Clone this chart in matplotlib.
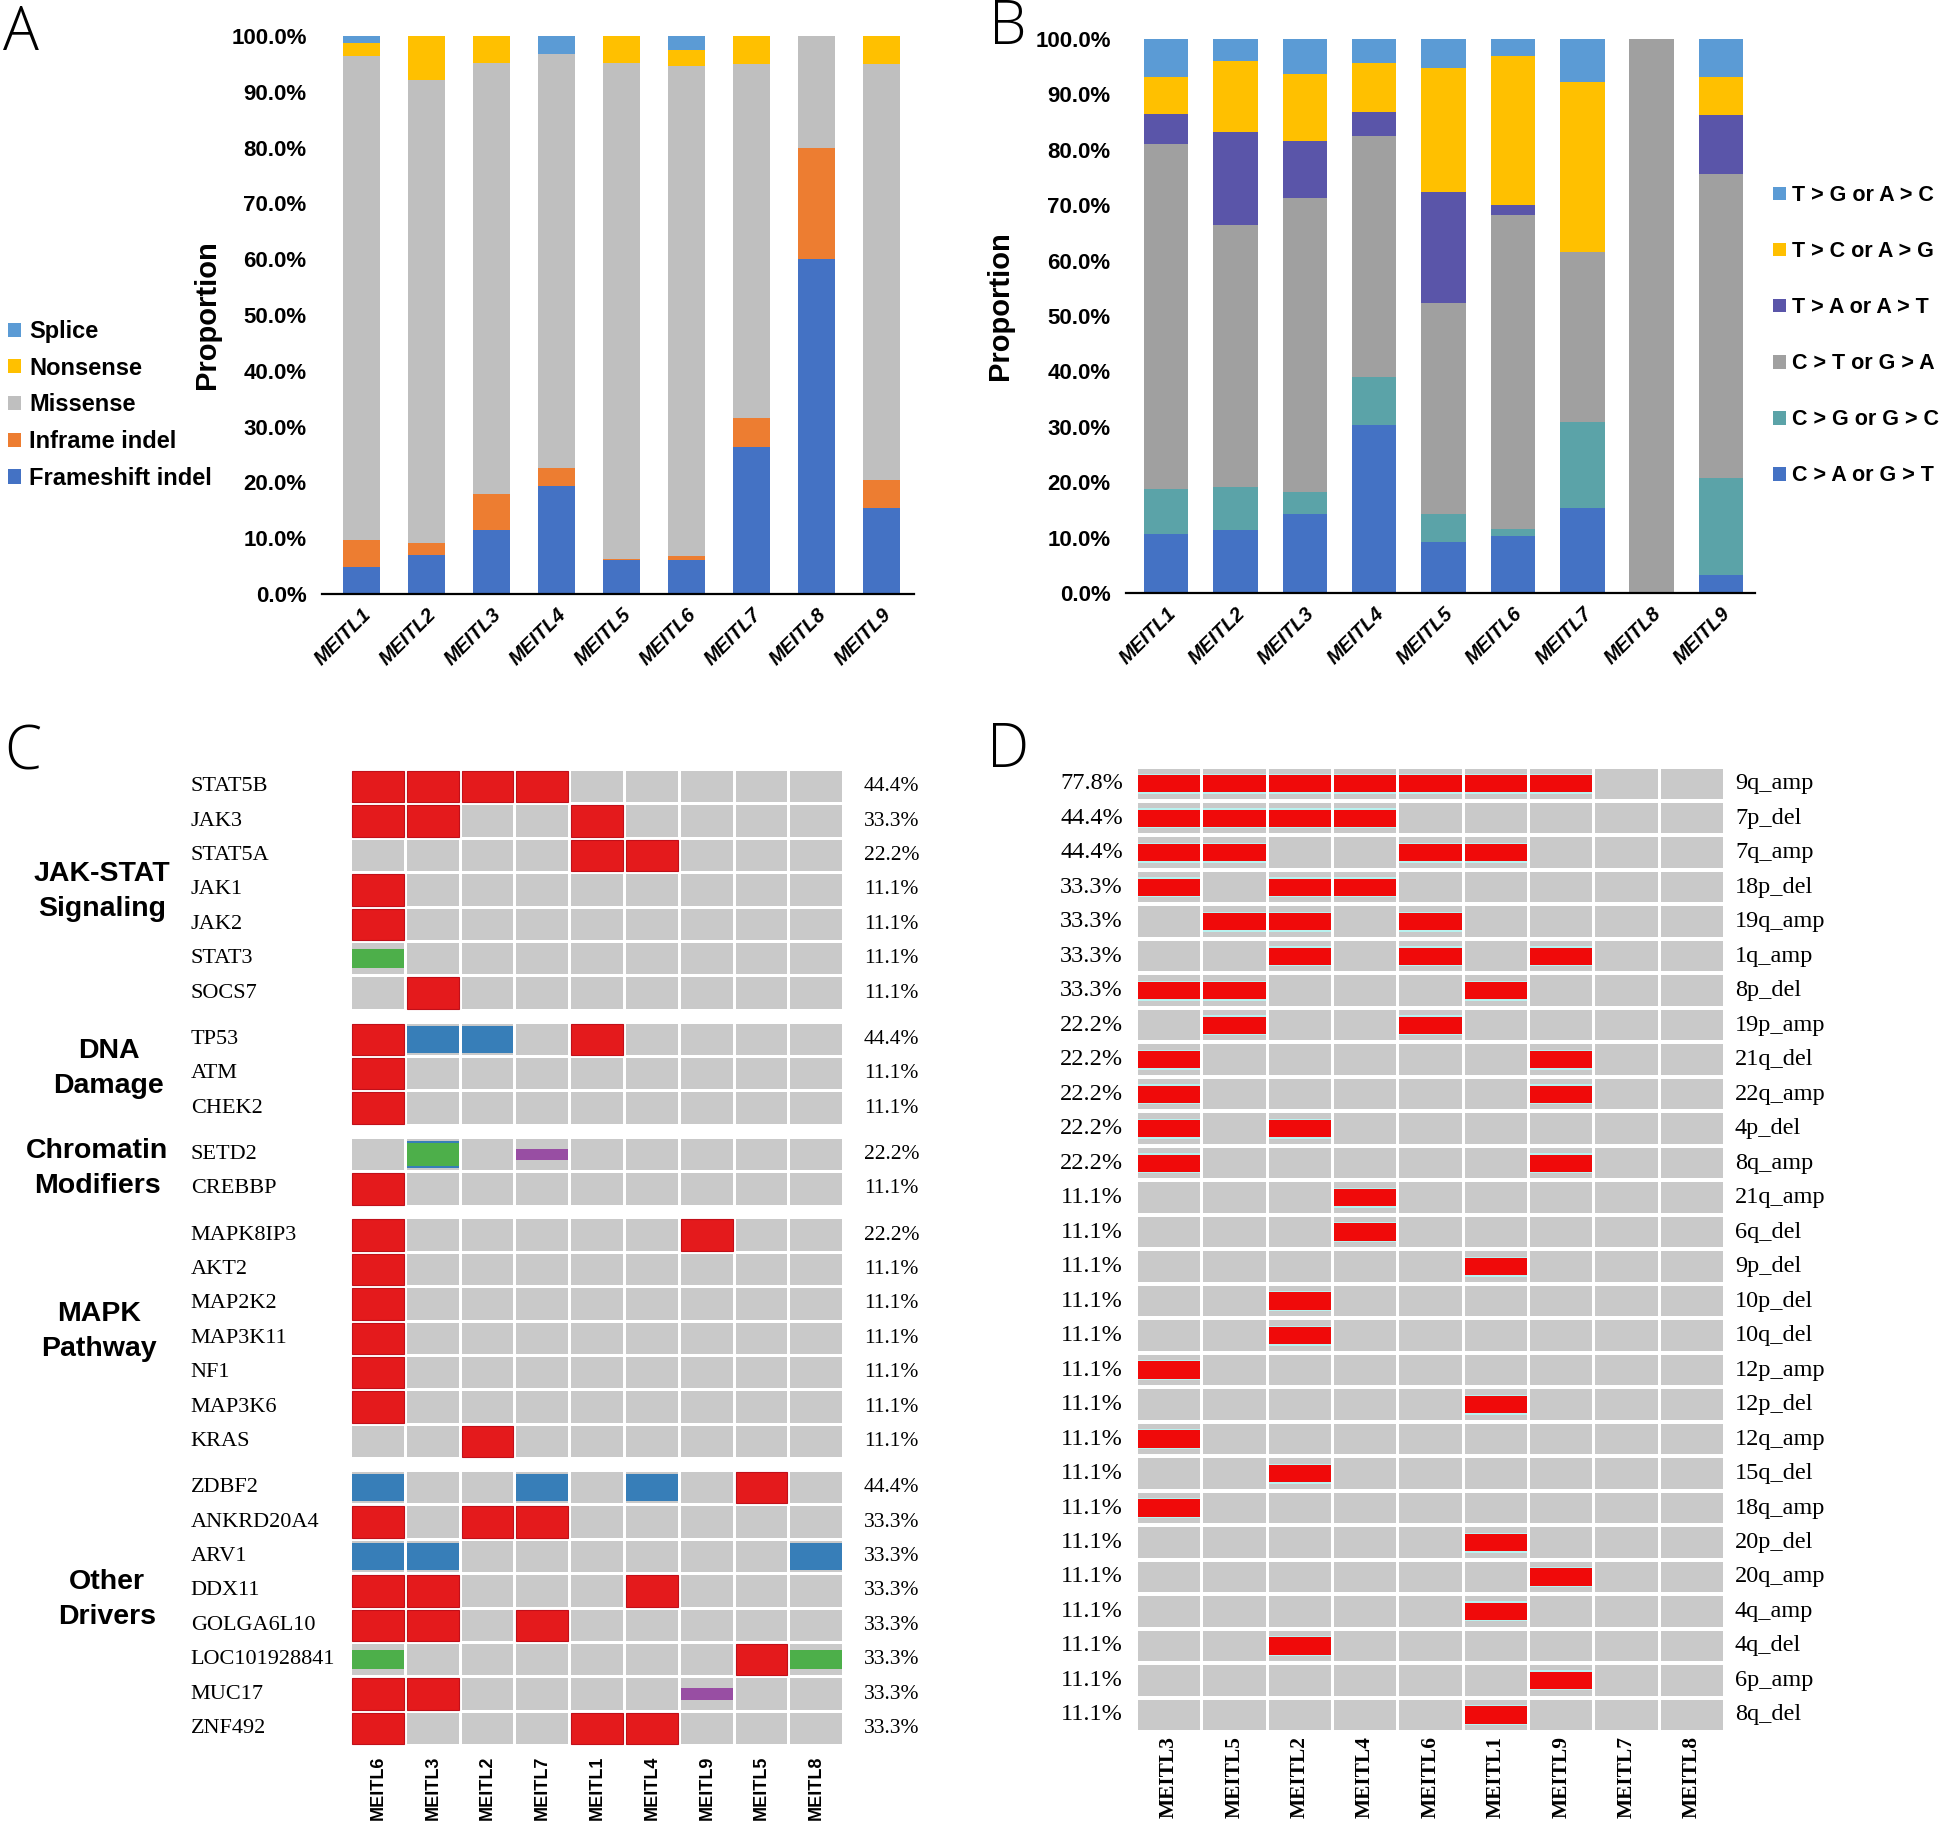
import numpy as np
import matplotlib
matplotlib.use("Agg")
import matplotlib.pyplot as plt
from matplotlib.patches import Rectangle
from matplotlib.transforms import blended_transform_factory

# ---- data -------------------------------------------------------------
samples = ['MEITL1', 'MEITL2', 'MEITL3', 'MEITL4', 'MEITL5',
           'MEITL6', 'MEITL7', 'MEITL8', 'MEITL9']

# panel A: mutation class proportions (%)
frameshift = [4.9, 7.0, 11.5, 19.3, 6.1, 6.1, 26.3, 60.0, 15.4]
inframe = [4.8, 2.2, 6.5, 3.3, 0.2, 0.7, 5.3, 20.0, 5.0]
missense = [86.8, 82.9, 77.2, 74.2, 88.8, 87.9, 63.3, 20.0, 74.6]
nonsense = [2.3, 7.9, 4.8, 0.0, 4.9, 2.8, 5.1, 0.0, 5.0]
splice = [1.2, 0.0, 0.0, 3.2, 0.0, 2.5, 0.0, 0.0, 0.0]

# panel B: substitution spectrum (%)
c_to_a = [10.6, 11.4, 14.2, 30.4, 9.2, 10.3, 15.3, 0.0, 3.3]
c_to_g = [8.2, 7.7, 4.0, 8.6, 5.1, 1.3, 15.5, 0.0, 17.4]
c_to_t = [62.2, 47.4, 53.1, 43.5, 38.1, 56.6, 30.7, 100.0, 55.0]
t_to_a = [5.4, 16.8, 10.3, 4.4, 19.9, 1.8, 0.0, 0.0, 10.5]
t_to_c = [6.8, 12.8, 12.1, 8.7, 22.4, 26.9, 30.8, 0.0, 6.9]
t_to_g = [6.8, 3.9, 6.3, 4.4, 5.3, 3.1, 7.7, 0.0, 6.9]

# panel C: driver genes (R red, B blue, G green, P purple, X blue+green)
c_samples = ['MEITL6', 'MEITL3', 'MEITL2', 'MEITL7', 'MEITL1',
             'MEITL4', 'MEITL9', 'MEITL5', 'MEITL8']
c_groups = ['JAK-STAT\nSignaling', 'DNA\nDamage', 'Chromatin\nModifiers',
            'MAPK\nPathway', 'Other\nDrivers']
c_group_sizes = [7, 3, 2, 7, 8]
c_genes = ['STAT5B', 'JAK3', 'STAT5A', 'JAK1', 'JAK2', 'STAT3', 'SOCS7',
           'TP53', 'ATM', 'CHEK2',
           'SETD2', 'CREBBP',
           'MAPK8IP3', 'AKT2', 'MAP2K2', 'MAP3K11', 'NF1', 'MAP3K6', 'KRAS',
           'ZDBF2', 'ANKRD20A4', 'ARV1', 'DDX11', 'GOLGA6L10',
           'LOC101928841', 'MUC17', 'ZNF492']
c_calls = ['RRRR.....', 'RR..R....', '....RR...', 'R........', 'R........',
           'G........', '.R.......',
           'RBB.R....', 'R........', 'R........',
           '.X.P.....', 'R........',
           'R.....R..', 'R........', 'R........', 'R........', 'R........',
           'R........', '..R......',
           'B..B.B.R.', 'R.RR.....', 'BB......B', 'RR...R...', 'RR.R.....',
           'G......RG', 'RR....P..', 'R...RR...']

# panel D: copy number events
d_samples = ['MEITL3', 'MEITL5', 'MEITL2', 'MEITL4', 'MEITL6',
             'MEITL1', 'MEITL9', 'MEITL7', 'MEITL8']
d_events = ['9q_amp', '7p_del', '7q_amp', '18p_del', '19q_amp', '1q_amp',
            '8p_del', '19p_amp', '21q_del', '22q_amp', '4p_del', '8q_amp',
            '21q_amp', '6q_del', '9p_del', '10p_del', '10q_del', '12p_amp',
            '12p_del', '12q_amp', '15q_del', '18q_amp', '20p_del', '20q_amp',
            '4q_amp', '4q_del', '6p_amp', '8q_del']
d_calls = ['RRRRRRR..', 'RRRR.....', 'RR..RR...', 'R.RR.....', '.RR.R....',
           '..R.R.R..', 'RR...R...', '.R..R....', 'R.....R..', 'R.....R..',
           'R.R......', 'R.....R..', '...R.....', '...R.....', '.....R...',
           '..R......', '..R......', 'R........', '.....R...', 'R........',
           '..R......', 'R........', '.....R...', '......R..', '.....R...',
           '..R......', '......R..', '.....R...']

# ---- layout helpers ---------------------------------------------------
W, H = 1946, 1827
plt.rcParams['font.family'] = ['Liberation Sans', 'DejaVu Sans']
SERIF = ['Liberation Serif', 'DejaVu Serif']


def box(x0, y0, x1, y1):
    # pixel box (top-left origin) -> figure rect
    return [x0 / W, 1 - y1 / H, (x1 - x0) / W, (y1 - y0) / H]


fig = plt.figure(figsize=(W / 100, H / 100), dpi=100)


def stacked(ax, series, names, colors, width):
    x = np.arange(len(samples))
    bottom = np.zeros(len(samples))
    for vals, name, col in zip(series, names, colors):
        ax.bar(x, vals, width, bottom=bottom, color=col, label=name)
        bottom += np.array(vals)
    ax.set_ylim(0, 100)
    ticks = np.arange(0, 101, 10)
    ax.set_yticks(ticks, [f'{t:.1f}%' for t in ticks],
                  fontsize=16, fontweight='bold')
    ax.set_xticks(x, samples, rotation=45, ha='right', va='top',
                  rotation_mode='anchor', fontsize=14.5,
                  fontweight='bold', fontstyle='italic')
    ax.tick_params(axis='both', length=0)
    ax.tick_params(axis='y', pad=11)
    ax.tick_params(axis='x', pad=8)
    for s in ['top', 'right', 'left']:
        ax.spines[s].set_visible(False)
    ax.spines['bottom'].set_linewidth(1.6)
    ax.set_ylabel('Proportion', fontsize=21, fontweight='bold')


# ---- panel A ----------------------------------------------------------
axA = fig.add_axes(box(322, 36, 914, 594))
stacked(axA, [frameshift, inframe, missense, nonsense, splice],
        ['Frameshift indel', 'Inframe indel', 'Missense', 'Nonsense', 'Splice'],
        ['#4472C4', '#ED7D31', '#BFBFBF', '#FFC000', '#5B9BD5'], 0.57)
axA.set_xlim(-0.61, 8.5)
axA.yaxis.set_label_coords(-0.171, 0.5)
h, l = axA.get_legend_handles_labels()
fig.legend(h[::-1], l[::-1], loc='upper left',
           bbox_to_anchor=(8 / W, 1 - 320 / H), frameon=False,
           prop={'family': 'Liberation Sans', 'weight': 'bold', 'size': 17},
           handlelength=0.55, handleheight=0.55, handletextpad=0.35,
           labelspacing=0.58, borderpad=0, borderaxespad=0)

# ---- panel B ----------------------------------------------------------
axB = fig.add_axes(box(1126, 39, 1755, 593))
stacked(axB, [c_to_a, c_to_g, c_to_t, t_to_a, t_to_c, t_to_g],
        ['C > A or G > T', 'C > G or G > C', 'C > T or G > A',
         'T > A or A > T', 'T > C or A > G', 'T > G or A > C'],
        ['#4472C4', '#5BA3A8', '#A0A0A0', '#5A55A9', '#FFC000', '#5B9BD5'],
        0.64)
axB.set_xlim(-0.58, 8.49)
axB.yaxis.set_label_coords(-0.178, 0.518)
h, l = axB.get_legend_handles_labels()
fig.legend(h[::-1], l[::-1], loc='upper left',
           bbox_to_anchor=(1773 / W, 1 - 185 / H), frameon=False,
           prop={'family': 'Liberation Sans', 'weight': 'bold', 'size': 15.5},
           handlelength=0.6, handleheight=0.6, handletextpad=0.3,
           labelspacing=1.63, borderpad=0, borderaxespad=0)

# ---- panel C ----------------------------------------------------------
GRAY = '#C9C9C9'
axC = fig.add_axes(box(350.6, 769.5, 843.75, 1745.7))
c_gap = 0.345
ys, mids = [], []
y = 0.0
for n in c_group_sizes:
    mids.append(y + (n - 1) / 2)
    for k in range(n):
        ys.append(y)
        y += 1
    y += c_gap
gx, gy = 0.055, 0.087
mark_h = {'R': 1 - gy, 'B': 0.8, 'G': 0.55, 'P': 0.34}
mark_c = {'R': '#E41A1C', 'B': '#377EB8', 'G': '#4DAF4A', 'P': '#984EA3'}
for yi, calls in zip(ys, c_calls):
    for ci, ch in enumerate(calls):
        axC.add_patch(Rectangle((ci + gx / 2, yi - 0.5 + gy / 2), 1 - gx, 1 - gy,
                                color=GRAY, lw=0))
        layers = {'X': [('B', 0.79), ('G', 0.69)]}.get(
            ch, [(ch, mark_h.get(ch, 0))])
        for code, hh in layers:
            if code not in mark_c:
                continue
            ec = '#C0101A' if code == 'R' else 'none'
            axC.add_patch(Rectangle((ci + gx / 2, yi - hh / 2), 1 - gx, hh,
                                    facecolor=mark_c[code], edgecolor=ec, lw=0.8))
axC.set_xlim(0, 9)
axC.set_ylim(ys[-1] + 0.5, -0.5)
axC.set_yticks([])
axC.set_xticks(np.arange(9) + 0.5, c_samples, rotation=90,
               fontsize=13, fontweight='bold')
axC.tick_params(axis='x', length=0, pad=7)
for s in axC.spines.values():
    s.set_visible(False)
trC = blended_transform_factory(axC.transAxes, axC.transData)
for yi, gene, calls in zip(ys, c_genes, c_calls):
    n = sum(ch != '.' for ch in calls)
    axC.text(-0.324, yi, gene, transform=trC, ha='left', va='center',
             family=SERIF, fontsize=16)
    axC.text(1.041, yi, f'{100 * n / 9:.1f}%', transform=trC, ha='left',
             va='center', family=SERIF, fontsize=15.5)
# group label centres, in figure pixels
c_group_x = [102, 109, 97, 99, 107]
c_group_dy = [0.05, -0.15, -0.1, -0.2, -0.25]
for name, m, gxp, dy in zip(c_groups, mids, c_group_x, c_group_dy):
    axC.text((gxp - 350.6) / 493.15, m + dy, name, transform=trC,
             ha='center', va='center', multialignment='center',
             fontsize=20.5, fontweight='bold', linespacing=1.45)

# ---- panel D ----------------------------------------------------------
axD = fig.add_axes(box(1136.4, 766.5, 1724.7, 1732.2))
gx, gy = 0.046, 0.116
for ri, calls in enumerate(d_calls):
    for ci, ch in enumerate(calls):
        axD.add_patch(Rectangle((ci + gx / 2, ri - 0.5 + gy / 2), 1 - gx, 1 - gy,
                                color=GRAY, lw=0))
        if ch == 'R':
            axD.add_patch(Rectangle((ci + gx / 2, ri - 0.29), 1 - gx, 0.58,
                                    color='#B8F2F0', lw=0))
            axD.add_patch(Rectangle((ci + gx / 2, ri - 0.25), 1 - gx, 0.5,
                                    color='#F00A0A', lw=0))
axD.set_xlim(0, 9)
axD.set_ylim(len(d_events) - 0.5, -0.5)
axD.set_yticks([])
axD.set_xticks(np.arange(9) + 0.5, d_samples, rotation=90,
               family=SERIF, fontsize=15.5, fontweight='bold')
axD.tick_params(axis='x', length=0, pad=3)
for s in axD.spines.values():
    s.set_visible(False)
trD = blended_transform_factory(axD.transAxes, axD.transData)
for ri, (ev, calls) in enumerate(zip(d_events, d_calls)):
    n = sum(ch != '.' for ch in calls)
    axD.text(-0.023, ri, f'{100 * n / 9:.1f}%', transform=trD, ha='right',
             va='center', family=SERIF, fontsize=17.5)
    axD.text(1.0175, ri, ev, transform=trD, ha='left', va='center',
             family=SERIF, fontsize=17.5)

# ---- panel letters ----------------------------------------------------
for letter, px, py in [('A', 3, 50), ('B', 989, 44), ('C', 4, 770), ('D', 987, 767)]:
    fig.text(px / W, 1 - py / H, letter, fontsize=43, family=['Open Sans', 'DejaVu Sans'],
             fontweight='light', va='baseline', ha='left')

fig.savefig('out.png', dpi=100)
